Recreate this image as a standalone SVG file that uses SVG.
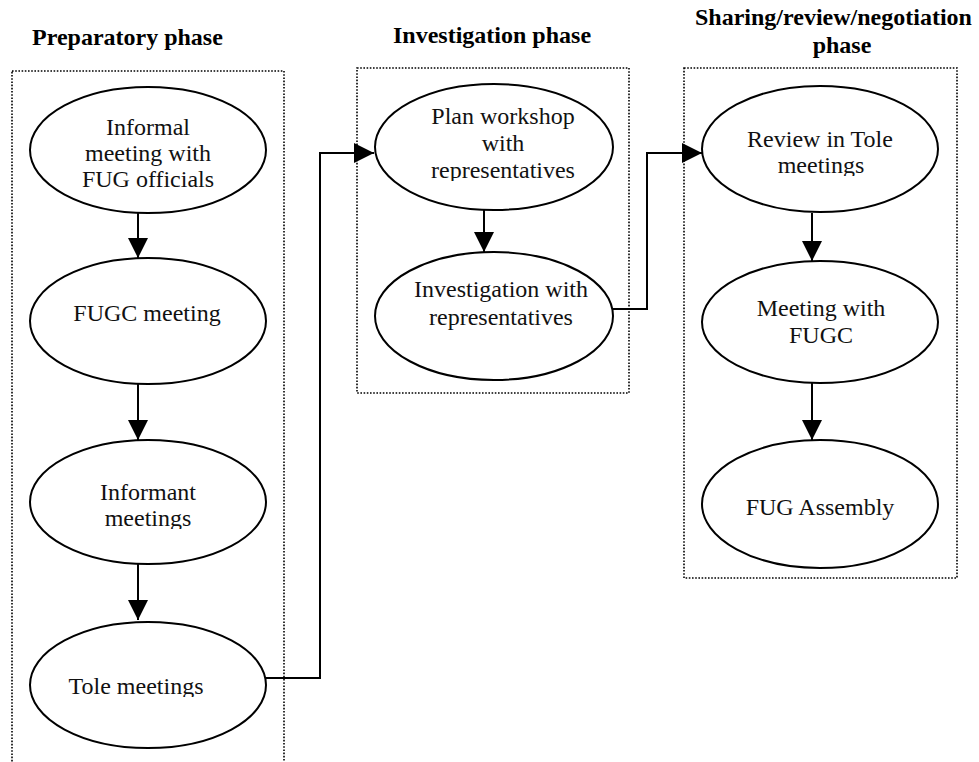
<svg xmlns="http://www.w3.org/2000/svg" width="979" height="762" viewBox="0 0 979 762">
  <style>
    .phase { fill: none; stroke: #000; stroke-width: 1.6; stroke-dasharray: 1.6 1.6; }
    .node ellipse { fill: #fff; stroke: #000; stroke-width: 2; }
    .node text { font-family: "Liberation Serif", "Times New Roman", serif; font-size: 24px; fill: #111; text-anchor: middle; }
    .head { font-family: "Liberation Serif", "Times New Roman", serif; font-size: 24px; font-weight: bold; fill: #000; }
    .edge { fill: none; stroke: #000; stroke-width: 2; marker-end: url(#arrow); }
  </style>
  <defs>
    <marker id="arrow" markerUnits="userSpaceOnUse" markerWidth="20" markerHeight="20" refX="20" refY="10" orient="auto">
      <path d="M0,0 L20,10 L0,20 Z" fill="#000"/>
    </marker>
    <!-- text frames cut off the descenders of their last line -->
    <clipPath id="clipPlan"><rect x="380" y="95" width="240" height="86"/></clipPath>
    <clipPath id="clipInformant"><rect x="40" y="470" width="220" height="59"/></clipPath>
    <clipPath id="clipTole"><rect x="40" y="660" width="220" height="37"/></clipPath>
    <clipPath id="clipReview"><rect x="710" y="120" width="220" height="56"/></clipPath>
  </defs>

  <rect width="979" height="762" fill="#fff"/>

  <!-- phase frames -->
  <g id="phases">
    <rect class="phase" x="12" y="71" width="272" height="710"/>
    <rect class="phase" x="357" y="68" width="272" height="325"/>
    <rect class="phase" x="684" y="68" width="273" height="510"/>
    <text class="head" x="32" y="45">Preparatory phase</text>
    <text class="head" x="393" y="43">Investigation phase</text>
    <text class="head" x="695" y="25">Sharing/review/negotiation</text>
    <text class="head" x="842" y="53" text-anchor="middle">phase</text>
  </g>

  <!-- connectors -->
  <g id="connectors">
    <path class="edge" d="M138,213 V258"/>
    <path class="edge" d="M138,384 V440"/>
    <path class="edge" d="M138,564 V620"/>
    <path class="edge" d="M266,678 H320 V153 H374"/>
    <path class="edge" d="M484,210 V252"/>
    <path class="edge" d="M613,309 H647 V153 H702"/>
    <path class="edge" d="M812,213 V261"/>
    <path class="edge" d="M812,383 V440"/>
  </g>

  <!-- preparatory phase -->
  <g id="informal" class="node">
    <ellipse cx="148" cy="150" rx="118" ry="63"/>
    <text x="148" y="135">Informal</text>
    <text x="148" y="161">meeting with</text>
    <text x="148" y="187">FUG officials</text>
  </g>
  <g id="fugc-meeting" class="node">
    <ellipse cx="148" cy="321" rx="118" ry="63"/>
    <text x="147" y="321">FUGC meeting</text>
  </g>
  <g id="informant" class="node">
    <ellipse cx="148" cy="502" rx="118" ry="62"/>
    <g clip-path="url(#clipInformant)">
      <text x="148" y="500">Informant</text>
      <text x="148" y="526">meetings</text>
    </g>
  </g>
  <g id="tole" class="node">
    <ellipse cx="148" cy="685" rx="118" ry="63"/>
    <g clip-path="url(#clipTole)">
      <text x="136" y="694">Tole meetings</text>
    </g>
  </g>

  <!-- investigation phase -->
  <g id="plan-workshop" class="node">
    <ellipse cx="494" cy="147" rx="119" ry="63"/>
    <g clip-path="url(#clipPlan)">
      <text x="503" y="124">Plan workshop</text>
      <text x="503" y="151">with</text>
      <text x="503" y="178">representatives</text>
    </g>
  </g>
  <g id="investigation" class="node">
    <ellipse cx="494" cy="316" rx="119" ry="64"/>
    <text x="501" y="297">Investigation with</text>
    <text x="501" y="325">representatives</text>
  </g>

  <!-- sharing / review / negotiation phase -->
  <g id="review" class="node">
    <ellipse cx="820" cy="149" rx="118" ry="63"/>
    <g clip-path="url(#clipReview)">
      <text x="820" y="147">Review in Tole</text>
      <text x="821" y="173">meetings</text>
    </g>
  </g>
  <g id="meeting-fugc" class="node">
    <ellipse cx="820" cy="322" rx="118" ry="61"/>
    <text x="821" y="316">Meeting with</text>
    <text x="821" y="343">FUGC</text>
  </g>
  <g id="assembly" class="node">
    <ellipse cx="820" cy="504" rx="118" ry="64"/>
    <text x="820" y="515">FUG Assembly</text>
  </g>
</svg>
